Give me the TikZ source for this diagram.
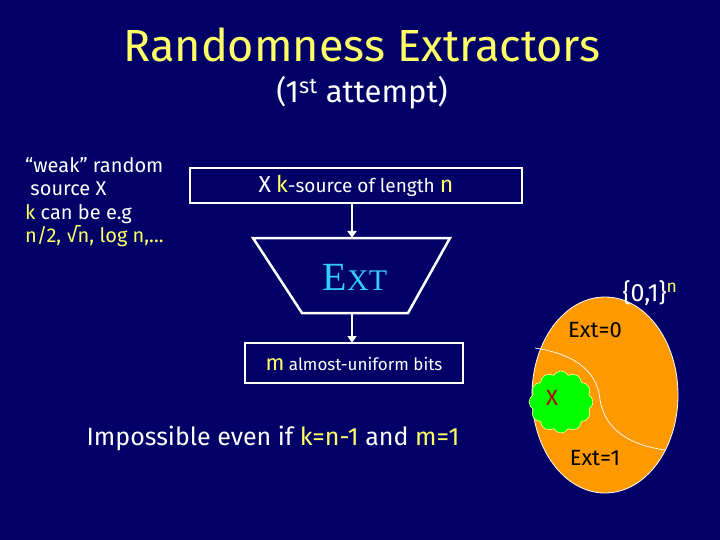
\documentclass[tikz,border=0pt]{standalone}
\usepackage{fontspec}
\setmainfont{Fira Sans}
\newfontfamily\serifx{Liberation Serif}
\usetikzlibrary{shapes.symbols,arrows.meta}
\definecolor{bg}{HTML}{000066}
\definecolor{yel}{HTML}{FFFF66}
\definecolor{orng}{HTML}{FF9900}
\definecolor{cyn}{HTML}{33CCFF}
\tikzset{x=1pt,y=-1pt,
 wbox/.style={draw=white,line width=2.5pt,fill=bg},
 arr/.style={draw=white,line width=1.6pt,-{Triangle[length=7pt,width=9pt]}},
 txt/.style={text=white,inner sep=0pt}}
\begin{document}
\begin{tikzpicture}
\fill[bg] (0,0) rectangle (720,540);
\useasboundingbox (0,0) rectangle (720,540);
\node[text=yel,font=\fontsize{45}{50}\selectfont] (title) at (362,45) {Randomness Extractors};
\node[text=white,font=\fontsize{31}{34}\selectfont] (sub) at (362,93) {(1\textsuperscript{st} attempt)};
\node[txt,anchor=north west,align=left,font=\fontsize{20}{23.5}\selectfont] (left) at (25,157)
 {``weak'' random\\ \ source X\\ \textcolor{yel}{k} can be e.g\\ \textcolor{yel}{n/2, √n, log n,...}};
\draw[wbox] (190,168) rectangle (522,203);
\node[txt,font=\fontsize{19}{20}\selectfont] (top) at (356,186) {{\fontsize{23}{24}\selectfont X} \textcolor{yel}{\fontsize{23}{24}\selectfont k}-source of length \textcolor{yel}{\fontsize{23}{24}\selectfont n}};
\coordinate (tb) at (352,203);
\draw[wbox] (253,238) -- (450,238) -- (408,313) -- (302,313) -- cycle;
\coordinate (tt) at (352,238);
\coordinate (tbot) at (352,313);
\node[text=cyn,font=\serifx\fontsize{40}{44}\selectfont] (ext) at (355,277) {E{\fontsize{30}{34}\selectfont XT}};
\draw[wbox] (245,343) rectangle (463,383);
\node[txt,font=\fontsize{17}{20}\selectfont] (bot) at (354,364) {\textcolor{yel}{\fontsize{22}{22}\selectfont m} almost-uniform bits};
\coordinate (bt) at (352,343);
\draw[arr] (tb) -- (tt);
\draw[arr] (tbot) -- (bt);
\node[txt,font=\fontsize{25}{28}\selectfont] (imp) at (273,438) {Impossible even if \textcolor{yel}{k=n-1} and \textcolor{yel}{m=1}};
% ellipse
\draw[fill=orng,draw=white,line width=0.8pt] (605,395) ellipse [x radius=73,y radius=98];
\draw[white,line width=0.7pt] (535,348) .. controls (580,355) and (598,375) .. (600,400) .. controls (605,430) and (630,445) .. (665,450);
\node[cloud,cloud puffs=12,cloud puff arc=120,aspect=1,fill=green,draw=yel!60,line width=0.6pt,minimum width=64,minimum height=62,inner sep=0pt] (cl) at (561,402) {};
\node[text=red!70!black,font=\fontsize{22}{22}\selectfont] (xx) at (552,398) {X};
\node[font=\fontsize{22}{22}\selectfont] (e0) at (595,330) {Ext=0};
\node[font=\fontsize{22}{22}\selectfont] (e1) at (595,458) {Ext=1};
\node[text=white,font=\fontsize{25}{26}\selectfont] (set) at (650,293) {\{0,1\}\textsuperscript{\textcolor{yel}{n}}};
\end{tikzpicture}
\end{document}
